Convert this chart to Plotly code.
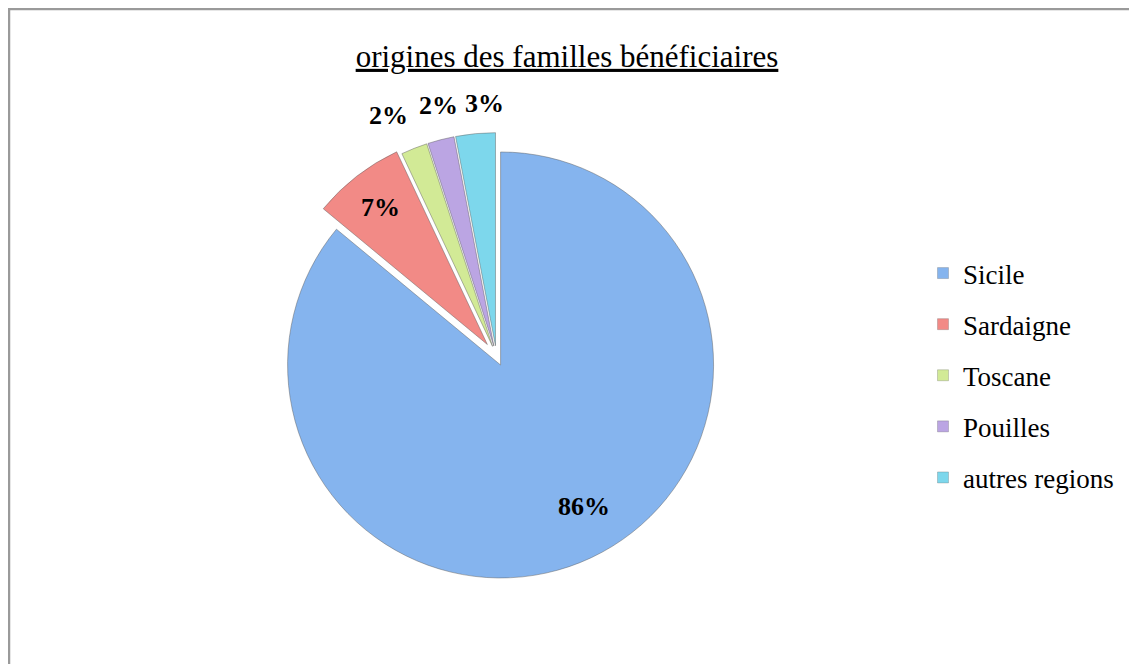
import math
import plotly.graph_objects as go

title_text = "origines des familles bénéficiaires"
regions = ["Sicile", "Sardaigne", "Toscane", "Pouilles", "autres regions"]
shares = [86, 7, 2, 2, 3]
colors = ["#85B4EE", "#F28A86", "#D2EA96", "#BBA5E3", "#7DD7EC"]

# style / layout settings (not data)
pulls = [0.045, 0.07, 0.05, 0.05, 0.05]
label_radius = [0.814, 0.885, 1.242, 1.21, 1.19]
label_angle_shift = [-5.0, 0.0, -2.6, 1.3, 2.6]

W, H = 1137, 664
cx, cy, r = 488.5, 348.3, 213          # pie centre (px, from top-left) and radius
half = r * (1 + max(pulls))

fig = go.Figure()
fig.add_trace(go.Pie(
    labels=regions, values=shares, sort=False, direction="clockwise", rotation=0,
    marker=dict(colors=colors, line=dict(color="rgba(90,90,90,0.45)", width=1)),
    pull=pulls, textinfo="none", showlegend=False, hoverinfo="label+percent",
    domain=dict(x=[(cx - half) / W, (cx + half) / W],
                y=[(H - cy - half) / H, (H - cy + half) / H]),
))
for i, (name, col) in enumerate(zip(regions, colors)):
    fig.add_trace(go.Scatter(
        x=[None], y=[None], mode="markers", name=name, legendgroup=f"g{i}",
        marker=dict(symbol="square", size=11, color=col,
                    line=dict(color="rgba(80,80,80,0.5)", width=0.5)),
        showlegend=True,
    ))

# percentage labels placed around each slice's mid-angle
total = sum(shares)
annotations = []
start = 0.0
for v, lr, da in zip(shares, label_radius, label_angle_shift):
    ang = start + v / total * 360 / 2 + da
    start += v / total * 360
    a = math.radians(ang)
    px = cx + lr * r * math.sin(a)
    py = cy - lr * r * math.cos(a)
    annotations.append(dict(
        x=px / W, y=1 - py / H, xref="paper", yref="paper",
        text=f"<b>{round(100 * v / total)}%</b>", showarrow=False,
        xanchor="center", yanchor="middle",
        font=dict(family="Liberation Serif", size=26, color="black"),
    ))

fig.update_layout(
    width=W, height=H, margin=dict(l=0, r=0, t=0, b=0),
    paper_bgcolor="white", plot_bgcolor="white",
    xaxis=dict(visible=False), yaxis=dict(visible=False),
    title=dict(text=f"<u>{title_text}</u>", x=559 / W, xanchor="center",
               y=1 - 48 / H, yanchor="middle",
               font=dict(family="Liberation Serif", size=31, color="black")),
    legend=dict(x=915 / W, y=1 - 241 / H, xanchor="left", yanchor="top",
                font=dict(family="Liberation Serif", size=27, color="black"),
                tracegroupgap=13, itemwidth=30, bgcolor="rgba(0,0,0,0)"),
    annotations=annotations,
    shapes=[dict(type="rect", xref="paper", yref="paper",
                 x0=1 / W, x1=1.05, y0=-0.05, y1=1 - 1 / H,
                 line=dict(color="#9a9a9a", width=2.5), fillcolor="rgba(0,0,0,0)",
                 layer="below")],
)
fig.write_html("out.html")
